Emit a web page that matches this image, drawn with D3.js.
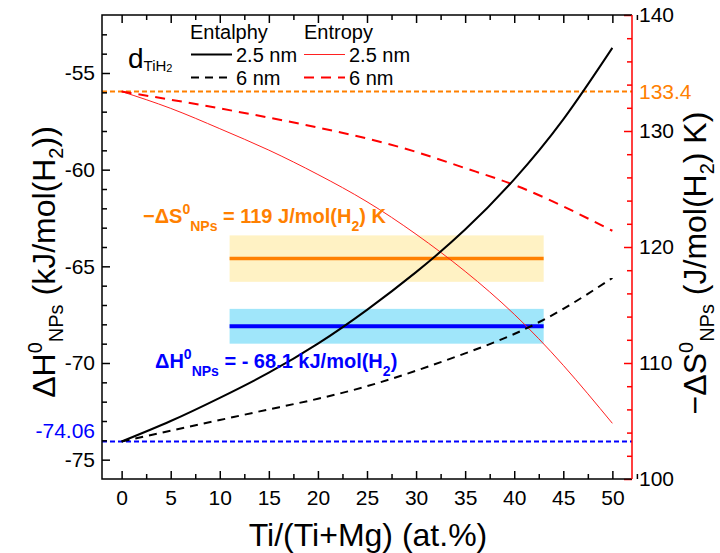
<!DOCTYPE html>
<html>
<head>
<meta charset="utf-8">
<script src="https://cdn.jsdelivr.net/npm/d3@7"></script>
<style>
body { margin: 0; background: #fff; }
svg { display: block; font-family: Arial, "Liberation Sans", sans-serif; }
</style>
</head>
<body>
<script>
// composition Ti/(Ti+Mg) in at.%
var xPct = [0, 5, 10, 15, 20, 25, 30, 35, 40, 45, 50]
// enthalpy (left axis, kJ/mol(H2))
var enthalpy25 = [-74.06, -73.0, -71.8, -70.5, -69.0, -67.25, -65.3, -63.1, -60.5, -57.4, -53.7]
var enthalpy6 = [-74.06, -73.5, -72.95, -72.4, -71.85, -71.2, -70.4, -69.5, -68.5, -67.2, -65.6]
// entropy (right axis, J/mol(H2) K)
var entropy25 = [133.4, 131.95, 130.2, 128.35, 126.25, 123.9, 121.1, 117.9, 114.2, 109.8, 104.8]
var entropy6 = [133.4, 132.7, 131.95, 131.15, 130.3, 129.35, 128.2, 126.8, 125.35, 123.5, 121.4]

// bulk reference values
var bulkH = -74.06
var bulkS = 133.4
// measured NP values and their bands
var npH = -68.1, npHErr = 0.9
var npS = 119, npSErr = 2
var bandX = [11, 43]

var xTicks = [0, 5, 10, 15, 20, 25, 30, 35, 40, 45, 50]
var leftTicks = [-75, -70, -65, -60, -55]
var rightTicks = [100, 110, 120, 130, 140]

var W = 720, H = 553
var L = 102, R = 632, T = 15, B = 479

var svg = d3.select("body").append("svg")
    .attr("width", W)
    .attr("height", H)

var x = d3.scaleLinear().domain([-2, 52]).range([L, R])
var yL = d3.scaleLinear().domain([-76, -52]).range([B, T])
var yR = d3.scaleLinear().domain([100, 140]).range([B, T])

// bands
svg.append("rect")
    .attr("x", x(bandX[0])).attr("width", x(bandX[1]) - x(bandX[0]))
    .attr("y", yR(npS + npSErr)).attr("height", yR(npS - npSErr) - yR(npS + npSErr))
    .attr("fill", "#fff2c4")
svg.append("rect")
    .attr("x", x(bandX[0])).attr("width", x(bandX[1]) - x(bandX[0]))
    .attr("y", yL(npH + npHErr)).attr("height", yL(npH - npHErr) - yL(npH + npHErr))
    .attr("fill", "#a0e6fa")
svg.append("line")
    .attr("x1", x(bandX[0])).attr("x2", x(bandX[1]))
    .attr("y1", yR(npS)).attr("y2", yR(npS))
    .attr("stroke", "#ff8000").attr("stroke-width", 3.5)
svg.append("line")
    .attr("x1", x(bandX[0])).attr("x2", x(bandX[1]))
    .attr("y1", yL(npH)).attr("y2", yL(npH))
    .attr("stroke", "#0000ff").attr("stroke-width", 4)

// bulk reference dashed lines
svg.append("line")
    .attr("x1", L).attr("x2", R)
    .attr("y1", yR(bulkS)).attr("y2", yR(bulkS))
    .attr("stroke", "#ff8000").attr("stroke-width", 2).attr("stroke-dasharray", "5,3")
svg.append("line")
    .attr("x1", L).attr("x2", R)
    .attr("y1", yL(bulkH)).attr("y2", yL(bulkH))
    .attr("stroke", "#0000ff").attr("stroke-width", 2).attr("stroke-dasharray", "5,3")

// curves
function curve(vals, y, color, width, dash) {
    var line = d3.line()
        .x(function(d, i) { return x(xPct[i]) })
        .y(function(d) { return y(d) })
        .curve(d3.curveNatural)
    svg.append("path")
        .attr("d", line(vals))
        .attr("fill", "none")
        .attr("stroke", color)
        .attr("stroke-width", width)
        .attr("stroke-dasharray", dash)
}
curve(entropy25, yR, "#ff2020", 1, null)
curve(entropy6, yR, "#ff0000", 2, "10,7")
curve(enthalpy25, yL, "#000", 2, null)
curve(enthalpy6, yL, "#000", 2, "8,6")

// axes
function styleAxis(g, color, size) {
    g.select(".domain").remove()
    g.selectAll("line").attr("stroke", color).attr("stroke-width", 1.5)
    g.selectAll("text").attr("fill", "#000").attr("font-size", size)
        .attr("font-family", "Arial, 'Liberation Sans', sans-serif")
}
function range(a, b, s) { return d3.range(a, b + s / 2, s) }
var plain = function(d) { return String(d) }

svg.append("g").attr("transform", "translate(0," + B + ")")
    .call(d3.axisBottom(x).tickValues(xTicks).tickSize(-8).tickPadding(11).tickFormat(plain))
    .call(styleAxis, "#000", 21)
svg.append("g").attr("transform", "translate(0," + B + ")")
    .call(d3.axisBottom(x).tickValues(range(-2.5, 52, 2.5).filter(function(v) { return v > -2 && v % 5 }))
        .tickSize(-5).tickFormat(""))
    .call(styleAxis, "#000", 21)
svg.append("g").attr("transform", "translate(0," + T + ")")
    .call(d3.axisTop(x).tickValues(xTicks).tickSize(-8).tickFormat(""))
    .call(styleAxis, "#000", 21)
svg.append("g").attr("transform", "translate(0," + T + ")")
    .call(d3.axisTop(x).tickValues(range(-2.5, 52, 2.5).filter(function(v) { return v > -2 && v % 5 }))
        .tickSize(-5).tickFormat(""))
    .call(styleAxis, "#000", 21)

svg.append("g").attr("transform", "translate(" + L + ",0)")
    .call(d3.axisLeft(yL).tickValues(leftTicks).tickSize(-8).tickPadding(7).tickFormat(plain))
    .call(styleAxis, "#000", 21)
svg.append("g").attr("transform", "translate(" + L + ",0)")
    .call(d3.axisLeft(yL).tickValues(range(-75, -53, 1).filter(function(v) { return v % 5 }))
        .tickSize(-5).tickFormat(""))
    .call(styleAxis, "#000", 21)

svg.append("g").attr("transform", "translate(" + R + ",0)")
    .call(d3.axisRight(yR).tickValues(rightTicks).tickSize(-8).tickPadding(7).tickFormat(plain))
    .call(styleAxis, "#ff0000", 21)
svg.append("g").attr("transform", "translate(" + R + ",0)")
    .call(d3.axisRight(yR).tickValues(range(102, 138, 2).filter(function(v) { return v % 10 }))
        .tickSize(-5).tickFormat(""))
    .call(styleAxis, "#ff0000", 21)

// frame
svg.append("path")
    .attr("d", "M" + R + "," + T + "H" + L + "V" + B + "H" + R)
    .attr("fill", "none").attr("stroke", "#000").attr("stroke-width", 1.5)
svg.append("line")
    .attr("x1", R).attr("x2", R).attr("y1", T).attr("y2", B)
    .attr("stroke", "#ff0000").attr("stroke-width", 1.5)

// reference value labels
svg.append("text")
    .attr("x", L - 7).attr("y", yL(bulkH) - 3)
    .attr("text-anchor", "end").attr("font-size", 21).attr("fill", "#0000ff")
    .text(bulkH.toFixed(2))
svg.append("text")
    .attr("x", R + 7).attr("y", yR(bulkS) + 7.5)
    .attr("font-size", 21).attr("fill", "#ff8000")
    .text(bulkS.toFixed(1))

// rich text helper with sub/superscripts
function rich(t, parts, size, small, up, down) {
    var cur = 0
    parts.forEach(function(p) {
        var off = p[1] == "sup" ? -up : p[1] == "sub" ? down : 0
        t.append("tspan")
            .attr("dy", off - cur)
            .attr("font-size", p[1] ? small : size)
            .text(p[0])
        cur = off
    })
}

// axis titles
svg.append("text")
    .attr("x", (L + R) / 2 + 1).attr("y", 546)
    .attr("text-anchor", "middle").attr("font-size", 32)
    .text("Ti/(Ti+Mg) (at.%)")

rich(svg.append("text")
        .attr("transform", "translate(55,262) rotate(-90)")
        .attr("text-anchor", "middle"),
    [["ΔH", ""], ["0", "sup"], ["NPs", "sub"], [" (kJ/mol(H", ""], ["2", "sub"], ["))", ""]],
    32, 20, 13, 8)

rich(svg.append("text")
        .attr("transform", "translate(706,263) rotate(-90)")
        .attr("text-anchor", "middle"),
    [["−ΔS", ""], ["0", "sup"], ["NPs", "sub"], [" (J/mol(H", ""], ["2", "sub"], [") K)", ""]],
    32, 20, 13, 8)

// annotations
rich(svg.append("text")
        .attr("x", 143).attr("y", 223)
        .attr("font-weight", "bold").attr("fill", "#ff8000"),
    [["−ΔS", ""], ["0", "sup"], ["NPs", "sub"], [" = " + npS + " J/mol(H", ""], ["2", "sub"], [") K", ""]],
    20, 14, 9, 8)

rich(svg.append("text")
        .attr("x", 155).attr("y", 368)
        .attr("font-weight", "bold").attr("fill", "#0000ff"),
    [["ΔH", ""], ["0", "sup"], ["NPs", "sub"], [" = - " + (-npH).toFixed(1) + " kJ/mol(H", ""], ["2", "sub"], [")", ""]],
    20, 14, 9, 8)

// legend
var legend = svg.append("g")
rich(legend.append("text").attr("x", 128).attr("y", 68),
    [["d", ""], ["TiH", "sub"]], 28, 15, 0, 3)
legend.select("text").append("tspan").attr("dy", 1).attr("font-size", 11).text("2")

legend.append("text").attr("x", 190).attr("y", 39).attr("font-size", 20).text("Entalphy")
legend.append("text").attr("x", 304).attr("y", 39).attr("font-size", 20).text("Entropy")

var legendRows = [
    { x: 191, y: 54.5, color: "#000", w: 2, dash: null, label: "2.5 nm" },
    { x: 191, y: 77.5, color: "#000", w: 2, dash: "8,6", label: "6 nm" },
    { x: 304, y: 54.5, color: "#ff2020", w: 1, dash: null, label: "2.5 nm" },
    { x: 304, y: 77.5, color: "#ff0000", w: 2, dash: "10,7", label: "6 nm" }
]
legendRows.forEach(function(r) {
    legend.append("line")
        .attr("x1", r.x).attr("x2", r.x + 41)
        .attr("y1", r.y).attr("y2", r.y)
        .attr("stroke", r.color).attr("stroke-width", r.w)
        .attr("stroke-dasharray", r.dash)
    legend.append("text")
        .attr("x", r.x + 45).attr("y", r.y + 7)
        .attr("font-size", 20)
        .text(r.label)
})
</script>
</body>
</html>
